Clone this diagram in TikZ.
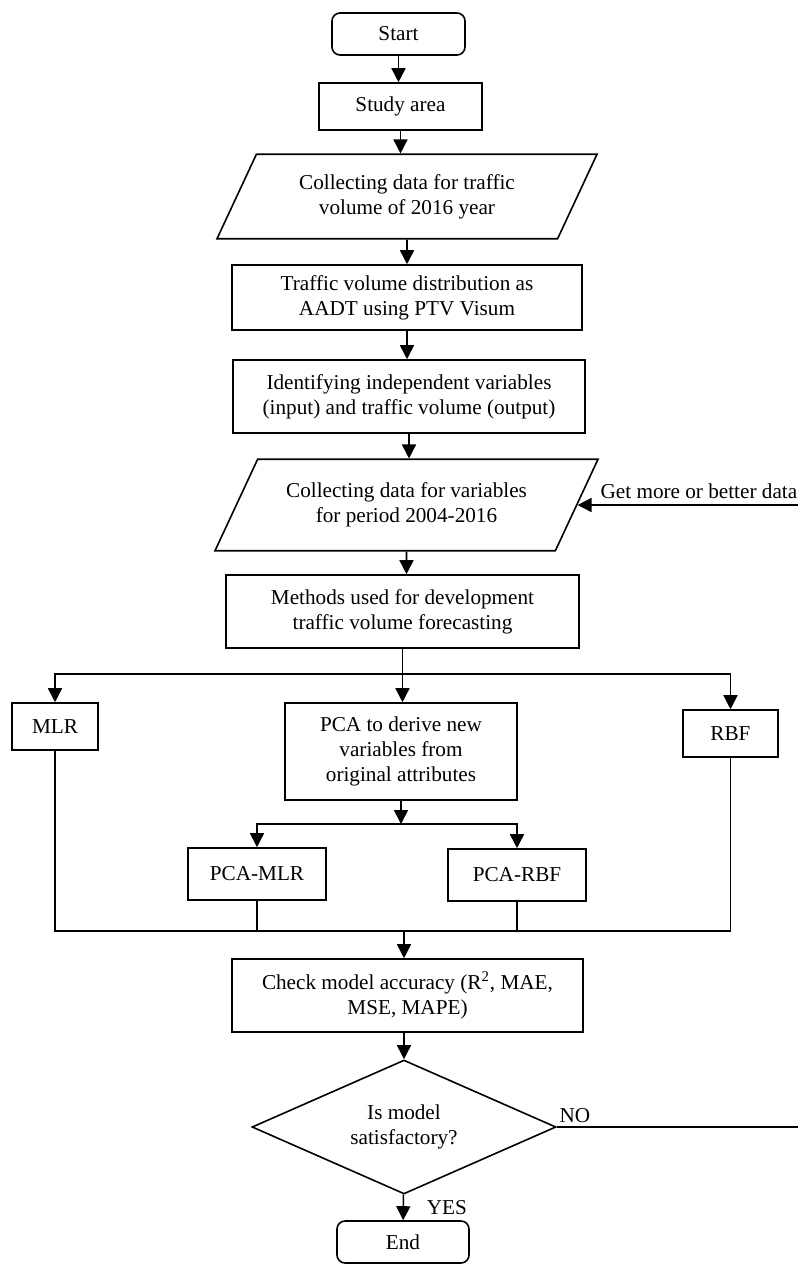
\documentclass[tikz,border=0pt]{standalone}
\usepackage{fontspec}
\setmainfont{Liberation Serif}
\usetikzlibrary{shapes.geometric,arrows.meta}

\begin{document}
\begin{tikzpicture}[x=0.5pt, y=-0.5pt, line width=0.8pt,
        every node/.style = {font=\fontsize{10.6}{12.5}\selectfont, align=center},
        term/.style = {draw, rounded corners=4pt, minimum width=#1, minimum height=21pt, inner sep=0pt},
        proc/.style = {draw, minimum width=#1, minimum height=36.5pt, inner sep=0pt},
        io/.style = {draw, trapezium, trapezium left angle=65, trapezium right angle=115,
            trapezium stretches body, minimum width=#1, inner xsep=0pt},
        dec/.style = {draw, diamond, aspect=2.27, minimum width=152pt, minimum height=67pt, inner sep=0pt},
        arr/.style = {-{Triangle[length=7pt,width=7pt]}}]
        \useasboundingbox (0,0) rectangle (798,1266);

        \node[term=66.5pt] (start) at (398.5,34) {Start};
        \node[proc=81.5pt, minimum height=23.5pt] (study) at (400.5,106.5) {Study area};
        \node[io=190pt, inner ysep=10pt] (coltraffic) at (407,196.5) {Collecting data for traffic\\volume of 2016 year};
        \node[proc=175pt, minimum height=32.5pt] (distrib) at (407,297.5) {Traffic volume distribution as\\AADT using PTV Visum};
        \node[proc=176pt] (ident) at (409,396.5) {Identifying independent variables\\(input) and traffic volume (output)};
        \node[io=191.5pt, inner ysep=11.75pt] (colvars) at (406.5,505) {Collecting data for variables\\for period 2004-2016};
        \node[proc=176.5pt] (methods) at (402.5,611.5) {Methods used for development\\traffic volume forecasting};
        \node[proc=43pt, minimum height=23.5pt] (mlr) at (55,726.5) {MLR};
        \node[proc=116pt, minimum height=48.5pt] (pca) at (401,751.5) {PCA to derive new\\variables from\\original attributes};
        \node[proc=47.5pt, minimum height=23.5pt] (rbf) at (730.5,733.5) {RBF};
        \node[proc=69pt, minimum height=26pt] (pcamlr) at (257,874) {PCA-MLR};
        \node[proc=69pt, minimum height=26pt] (pcarbf) at (517,875) {PCA-RBF};
        \node[proc=175.5pt] (check) at (407.5,995.5) {Check model accuracy (R\textsuperscript{2}, MAE,\\MSE, MAPE)};
        \node[dec] (satisf) at (404,1127) {Is model\\satisfactory?};
        \node[term=66pt] (end) at (403,1242) {End};

        \coordinate (fork) at (methods.south |- 0,674);
        \coordinate (fork2) at (pca.south |- 0,824);
        \coordinate (join) at (404,931);
        \coordinate (more) at (colvars.east -| 798,0);
        \coordinate (noend) at (798,1127);

        \draw[arr] (start) -- (start |- study.north);
        \draw[arr] (study) -- (study |- coltraffic.north);
        \draw[arr] (coltraffic) -- (coltraffic |- distrib.north);
        \draw[arr] (distrib) -- (distrib |- ident.north);
        \draw[arr] (ident) -- (ident |- colvars.north);
        \draw[arr] (colvars) -- (colvars |- methods.north);
        \draw (methods) -- (fork);
        \draw[arr] (fork) -- (fork |- pca.north);
        \draw[arr] (fork) -| (mlr);
        \draw[arr] (fork) -| (rbf);
        \draw[arr] (pca) -- (fork2);
        \draw[arr] (fork2) -| (pcamlr);
        \draw[arr] (fork2) -| (pcarbf);
        \draw (mlr) |- (join) -| (rbf);
        \draw (pcamlr) -- (pcamlr |- join);
        \draw (pcarbf) -- (pcarbf |- join);
        \draw[arr] (join) -- (join |- check.north);
        \draw[arr] (satisf.north |- check.south) -- (satisf);
        \draw[arr] (satisf) -- node[anchor=west, xshift=8pt] {YES} (end);
        \draw (satisf.east) -- node[pos=0, anchor=south west, inner sep=1pt, yshift=1pt] {NO} (noend);
        \draw[arr] (more) -- (colvars.east);
        \node[anchor=south east, inner xsep=0pt, inner ysep=3pt] (moretxt) at (more) {Get more or better data};
    \end{tikzpicture}
\end{document}
